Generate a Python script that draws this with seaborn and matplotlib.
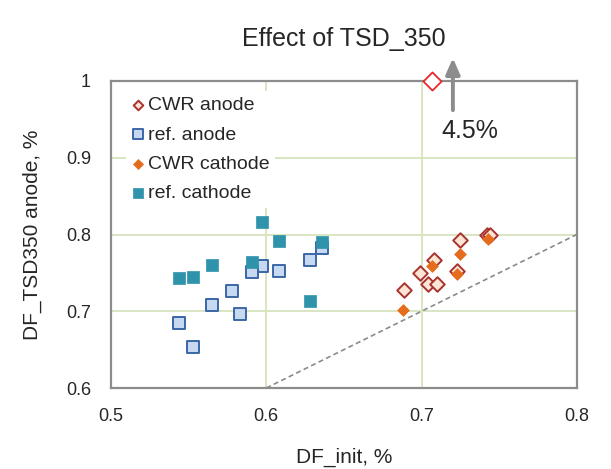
import numpy as np
import pandas as pd
import matplotlib
matplotlib.use('Agg')
import matplotlib.pyplot as plt
import seaborn as sns

# ─────────────────────────────────────────────
# Data
# ─────────────────────────────────────────────
cwr_anode_x = [0.725, 0.742, 0.744, 0.708, 0.699, 0.704, 0.710, 0.723, 0.689]
cwr_anode_y = [0.793, 0.799, 0.800, 0.767, 0.750, 0.735, 0.736, 0.753, 0.728]

ref_anode_x = [0.636, 0.628, 0.597, 0.591, 0.608, 0.578, 0.565, 0.583, 0.544, 0.553]
ref_anode_y = [0.783, 0.767, 0.759, 0.751, 0.752, 0.726, 0.708, 0.696, 0.685, 0.654]

cwr_cathode_x = [0.743, 0.725, 0.707, 0.723, 0.688]
cwr_cathode_y = [0.794, 0.774, 0.759, 0.749, 0.701]

ref_cathode_x = [0.597, 0.608, 0.636, 0.565, 0.591, 0.544, 0.553, 0.628]
ref_cathode_y = [0.816, 0.791, 0.790, 0.760, 0.764, 0.743, 0.744, 0.713]

outlier_x = [0.707]
outlier_y = [1.0]

diag_line = [0.6, 0.8]

x_ticks = [0.5, 0.6, 0.7, 0.8]
y_ticks = [0.6, 0.7, 0.8, 0.9, 1.0]

# arrow annotation (x, y_start, y_end) and its label
arrow_x, arrow_y0, arrow_y1 = 0.7202, 0.962, 1.030
arrow_label = '4.5%'

# ─────────────────────────────────────────────
# Styling
# ─────────────────────────────────────────────
sns.set_theme(style='white')
plt.rcParams['font.family'] = ['Liberation Sans', 'DejaVu Sans']

SPINE = '#8c8c8c'
GRID = '#d7e4bd'
TEXT = '#262626'

# label, x, y, marker, face, edge, edge width, plot size, legend size
series = [
    ('CWR anode', cwr_anode_x, cwr_anode_y, 'D', '#fde5d6', '#a8322d', 1.4, 55, 24),
    ('ref. anode', ref_anode_x, ref_anode_y, 's', '#c6d9f1', '#3b66a6', 1.4, 66, 50),
    ('CWR cathode', cwr_cathode_x, cwr_cathode_y, 'D', '#e46c1c', '#e46c1c', 0.5, 36, 26),
    ('ref. cathode', ref_cathode_x, ref_cathode_y, 's', '#2f93ab', '#2f93ab', 0.5, 80, 58),
]

fig, ax = plt.subplots(figsize=(6.11, 4.69), dpi=100)
fig.subplots_adjust(left=0.1817, right=0.944, bottom=0.1727, top=0.8273)

for label, xs, ys, marker, face, edge, lw, size, _ in series:
    df = pd.DataFrame({'x': xs, 'y': ys})
    sns.scatterplot(data=df, x='x', y='y', ax=ax, marker=marker, s=size,
                    color=face, edgecolor=edge, linewidth=lw, label=label,
                    zorder=3)

# y = x reference line
ax.plot(diag_line, diag_line, color='#8a8a8a', lw=1.2, ls=(0, (3, 2)), zorder=2)

# outlier point sitting on the top edge
sns.scatterplot(x=outlier_x, y=outlier_y, ax=ax, marker='D', s=85,
                color='white', edgecolor='#e8262b', linewidth=1.3,
                clip_on=False, zorder=4, legend=False)

ax.annotate('', xy=(arrow_x, arrow_y1), xytext=(arrow_x, arrow_y0),
            xycoords='data', annotation_clip=False,
            arrowprops=dict(arrowstyle='-|>,head_width=0.35,head_length=0.8',
                            color='#8c8c8c', lw=2.8, shrinkA=0, shrinkB=0))
ax.text(arrow_x + 0.011, 0.926, arrow_label, ha='center', va='baseline',
        fontsize=18, color=TEXT)

ax.set_xlim(x_ticks[0], x_ticks[-1])
ax.set_ylim(y_ticks[0], y_ticks[-1])
ax.set_xticks(x_ticks)
ax.set_yticks(y_ticks)
ax.set_xticklabels([f'{v:g}' for v in x_ticks])
ax.set_yticklabels([f'{v:g}' for v in y_ticks])
ax.tick_params(axis='both', labelsize=13, colors=SPINE, labelcolor=TEXT,
               direction='in', length=4, width=1.2, pad=14.5)

ax.grid(True, color=GRID, lw=1.3, zorder=0)
ax.set_axisbelow(True)
for sp in ax.spines.values():
    sp.set_color(SPINE)
    sp.set_linewidth(1.6)

ax.set_xlabel('DF_init, %', fontsize=15, color=TEXT, labelpad=16)
ax.set_ylabel('DF_TSD350 anode, %', fontsize=15, color=TEXT, labelpad=17)
ax.set_title('Effect of TSD_350', fontsize=18, color=TEXT, pad=25)

leg = ax.legend(loc='upper left', bbox_to_anchor=(0.033, 0.968), frameon=True,
                facecolor='white', edgecolor='none', framealpha=1,
                fontsize=14, handlelength=0.6, handletextpad=0.2,
                labelspacing=0.6, borderpad=0.3, borderaxespad=0)
for h, s in zip(leg.legend_handles, [row[-1] for row in series]):
    h.set_sizes([s])
leg.set_zorder(5)
for t in leg.get_texts():
    t.set_color(TEXT)

plt.savefig('out.png', dpi=100)
plt.close()
